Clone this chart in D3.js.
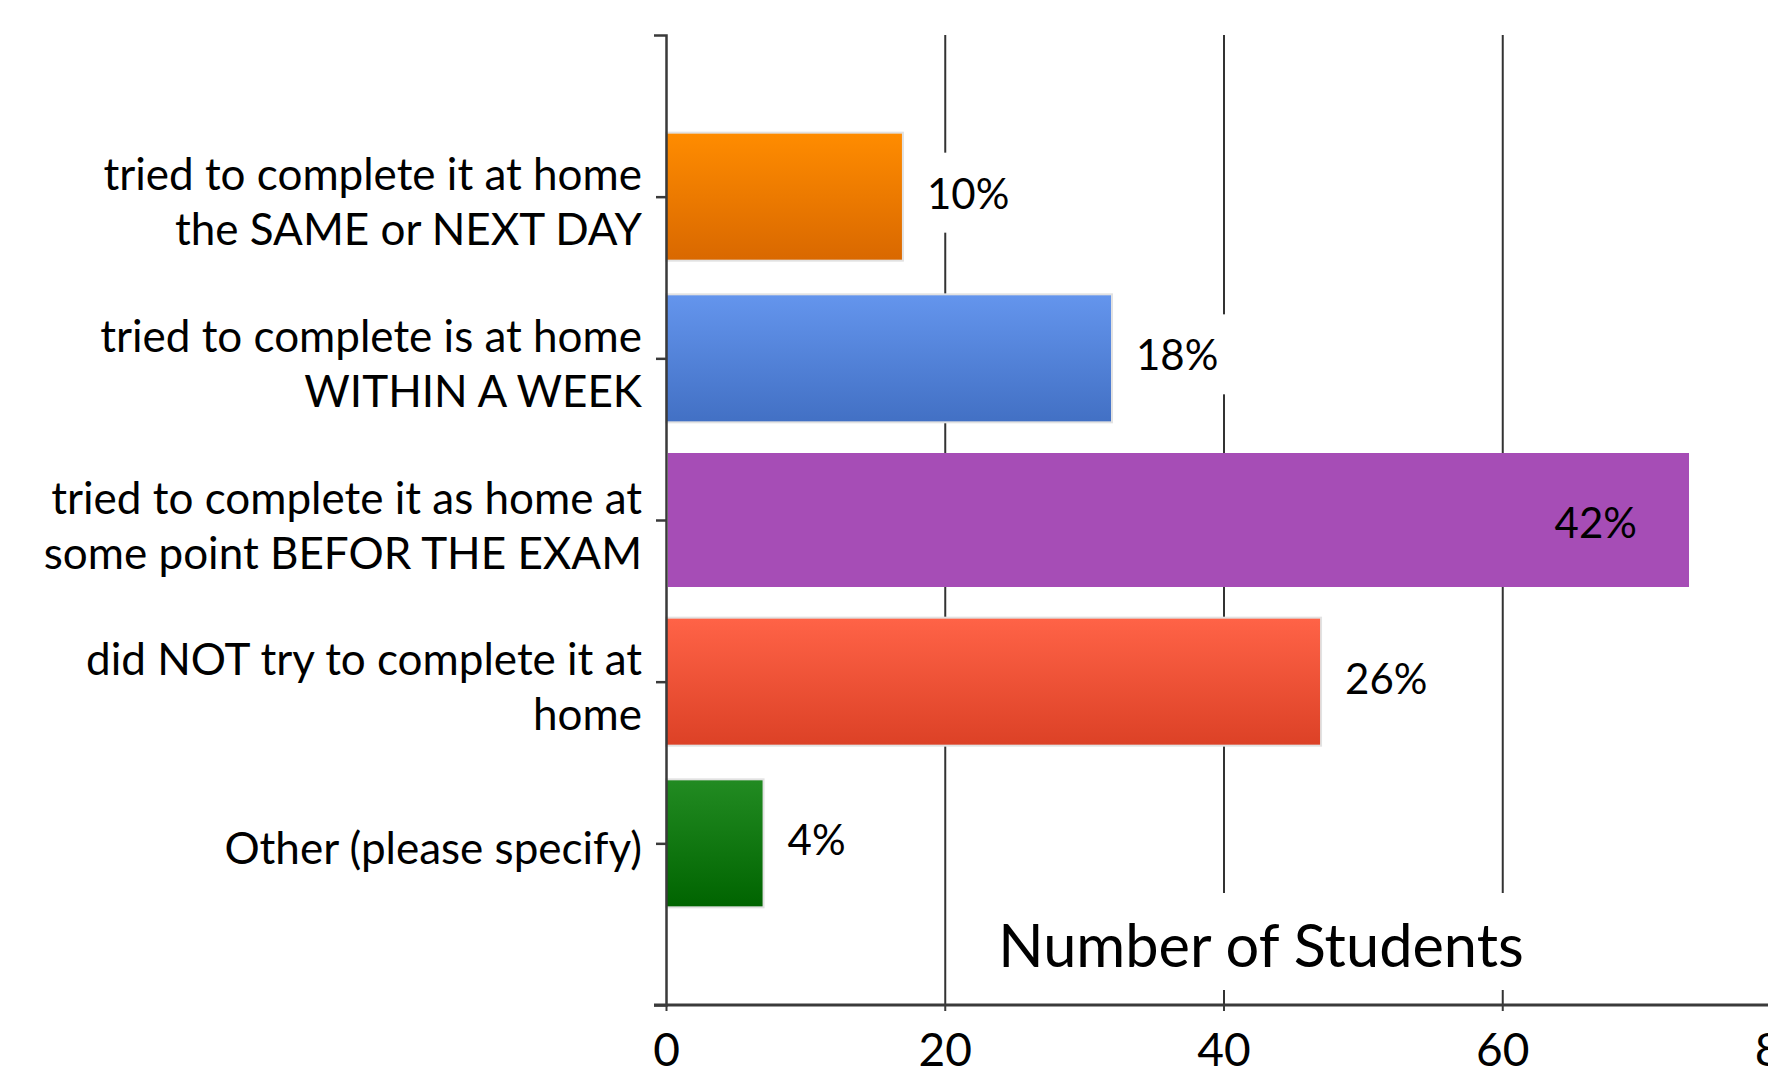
<!DOCTYPE html>
<html>
<head>
<meta charset="utf-8">
<script src="https://cdn.jsdelivr.net/npm/d3@7"></script>
<style>
  html, body { margin: 0; padding: 0; background: #fff; overflow: hidden; }
  svg { display: block; font-family: Lato, "Open Sans", sans-serif; }
</style>
</head>
<body>
<div class="chart"></div>
<script>
// category labels, one array of lines per bar
const categoryLines = [
  ["tried to complete it at home", "the SAME or NEXT DAY"],
  ["tried to complete is at home", "WITHIN A WEEK"],
  ["tried to complete it as home at", "some point BEFOR THE EXAM"],
  ["did NOT try to complete it at", "home"],
  ["Other (please specify)"],
]
// number of students
const counts = [17, 32, 73.4, 47, 7]
const percentLabels = ["10%", "18%", "42%", "26%", "4%"]
const xTicks = [0, 20, 40, 60, 80]
const colorsTop = ["#ff8c00", "#6495ed", "#a64db6", "#ff6347", "#228b22"]
const colorsBottom = ["#d96800", "#4270c4", "#a64db6", "#dc4126", "#006400"]
const axisTitle = "Number of Students"

const width = 1768
const height = 1088
const plotTop = 35
const plotBottom = 1005
const barHeight = 128

const svg = d3.select(".chart").append("svg")
  .attr("width", width)
  .attr("height", height)
  .attr("viewBox", `0 0 ${width} ${height}`)

// scales
const x = d3.scaleLinear().domain([0, 80]).range([666, 1781])
const y = d3.scalePoint()
  .domain(d3.range(counts.length))
  .range([plotTop, plotBottom])
  .padding(1)

// gradients
const defs = svg.append("defs")
counts.forEach((c, i) => {
  const g = defs.append("linearGradient")
    .attr("id", "grad" + i)
    .attr("x1", 0).attr("y1", 0).attr("x2", 0).attr("y2", 1)
  g.append("stop").attr("offset", "0%").attr("stop-color", colorsTop[i])
  g.append("stop").attr("offset", "100%").attr("stop-color", colorsBottom[i])
})

// gridlines
svg.append("g")
  .attr("class", "grid")
  .attr("transform", `translate(0,${plotBottom})`)
  .call(d3.axisBottom(x).tickValues(xTicks.slice(1)).tickSize(-(plotBottom - plotTop)).tickFormat(""))
  .call(g => g.select(".domain").remove())
  .selectAll("line")
  .attr("stroke", "#333")
  .attr("stroke-width", 2)

// bars (the purple one has no light border, so it looks a bit taller)
const flat = (i) => colorsTop[i] === colorsBottom[i]
svg.append("g")
  .selectAll("rect")
  .data(counts)
  .join("rect")
  .attr("x", (d, i) => x(0) + (flat(i) ? 2 : 0))
  .attr("y", (d, i) => y(i) - barHeight / 2 - (flat(i) ? 3 : 0))
  .attr("width", (d, i) => x(d) - x(0) - (flat(i) ? 2 : 0))
  .attr("height", (d, i) => barHeight + (flat(i) ? 6 : 0))
  .attr("fill", (d, i) => `url(#grad${i})`)
  .attr("stroke", (d, i) => flat(i) ? "none" : "#e2e2e2")
  .attr("stroke-width", 2)

// value labels
const labelSize = 42
const labels = svg.append("g")
  .selectAll("g")
  .data(counts)
  .join("g")
labels.each(function (d, i) {
  const g = d3.select(this)
  const inside = x(d) > 1500
  const t = g.append("text")
    .attr("font-size", labelSize)
    .attr("fill", "#000")
    .attr("dominant-baseline", "central")
    .text(percentLabels[i])
  if (inside) {
    t.attr("text-anchor", "end").attr("x", x(d) - 52).attr("y", y(i) + 2)
  } else {
    t.attr("x", x(d) + 24).attr("y", y(i) - 4)
    const w = t.node().getComputedTextLength()
    g.insert("rect", "text")
      .attr("x", x(d) + 3)
      .attr("y", y(i) - 44)
      .attr("width", w + 42)
      .attr("height", 80)
      .attr("fill", "#fff")
  }
})

// axis title with white box
const title = svg.append("g")
const titleText = title.append("text")
  .attr("x", 1261)
  .attr("y", 967)
  .attr("text-anchor", "middle")
  .attr("font-size", 59.5)
  .attr("fill", "#000")
  .text(axisTitle)
const tb = titleText.node().getBBox()
title.insert("rect", "text")
  .attr("x", tb.x - 20)
  .attr("y", 893)
  .attr("width", tb.width + 40)
  .attr("height", 97)
  .attr("fill", "#fff")

// y axis
svg.append("g")
  .attr("transform", `translate(${x(0)},0)`)
  .call(d3.axisLeft(y).tickFormat("").tickSize(10).tickSizeOuter(12))
  .call(g => g.selectAll("path, line").attr("stroke", "#3a3a3a").attr("stroke-width", 2.5))

// x axis
svg.append("g")
  .attr("transform", `translate(0,${plotBottom})`)
  .call(d3.axisBottom(x).tickValues(xTicks).tickSize(6).tickSizeOuter(0).tickPadding(22))
  .call(g => g.select(".domain").attr("stroke", "#3a3a3a").attr("stroke-width", 3).attr("d", `M654,0H${width + 20}`))
  .call(g => g.selectAll("line").attr("stroke", "#3a3a3a").attr("stroke-width", 2))
  .call(g => g.selectAll("text").attr("font-size", 46).attr("fill", "#000").attr("font-family", "Lato, sans-serif"))

// category labels
svg.append("g")
  .selectAll("text")
  .data(categoryLines)
  .join("text")
  .attr("text-anchor", "end")
  .attr("font-size", 44)
  .attr("fill", "#000")
  .each(function (lines, i) {
    const t = d3.select(this)
    lines.forEach((line, k) => {
      t.append("tspan")
        .attr("x", 642)
        .attr("y", y(i) + 4 + (k - (lines.length - 1) / 2) * 55)
        .attr("dominant-baseline", "central")
        .text(line)
    })
  })
</script>
</body>
</html>
